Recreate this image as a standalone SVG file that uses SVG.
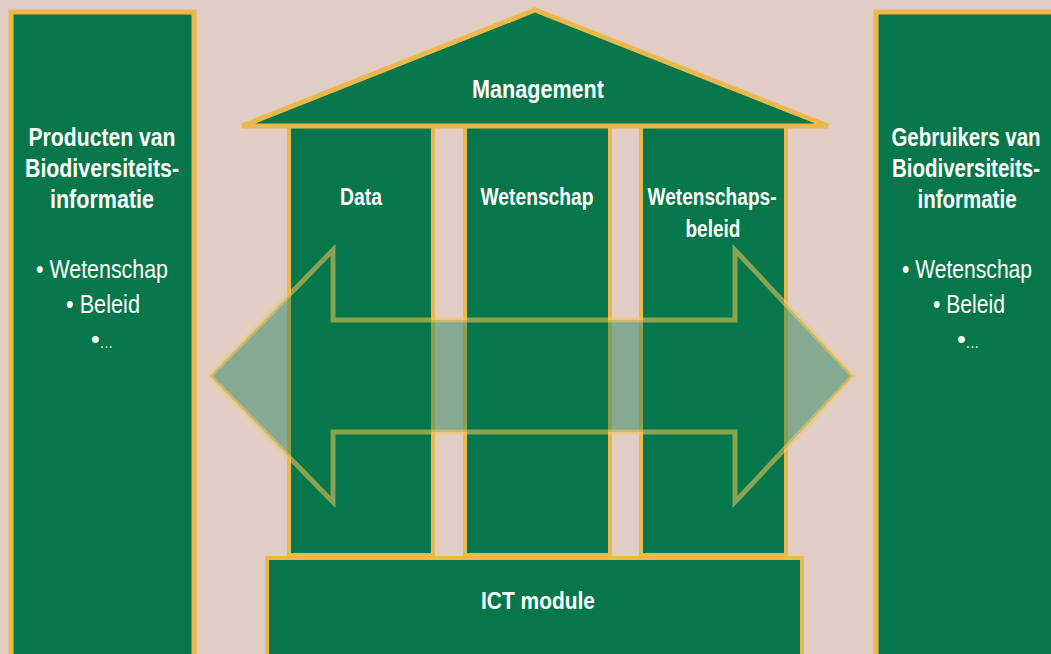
<svg xmlns="http://www.w3.org/2000/svg" width="1051" height="654" viewBox="0 0 1051 654">
<style>
.box{fill:#06774a;stroke:#ecb84c;stroke-width:5}
.pil{fill:#06774a;stroke:#ecb84c;stroke-width:4}
.t{font-family:"Liberation Sans",Arial,sans-serif;fill:#ffffff;text-anchor:middle}
.b{font-weight:bold}
.title{font-size:25px}
.lab{font-size:23.5px}
.li{font-size:25px}
.dots{font-size:16px;fill:#d9e6dc}
</style>
<rect width="1051" height="654" fill="#e2cdc5"/>
<g id="producten">
<rect class="box" x="11" y="12" width="183" height="660"/>
<text class="t b title" x="102" y="146" textLength="147" lengthAdjust="spacingAndGlyphs">Producten van</text>
<text class="t b title" x="102" y="177" textLength="154" lengthAdjust="spacingAndGlyphs">Biodiversiteits-</text>
<text class="t b title" x="102" y="208" textLength="104" lengthAdjust="spacingAndGlyphs">informatie</text>
<text class="t li" x="102" y="278" textLength="132" lengthAdjust="spacingAndGlyphs">• Wetenschap</text>
<text class="t li" x="103" y="313" textLength="74" lengthAdjust="spacingAndGlyphs">• Beleid</text>
<text class="t li" x="102" y="348">•<tspan class="dots">...</tspan></text>
</g>
<g id="gebruikers">
<rect class="box" x="876" y="12" width="200" height="660"/>
<text class="t b title" transform="translate(966,146) scale(0.82,1)" x="0" y="0">Gebruikers van</text>
<text class="t b title" transform="translate(966,177) scale(0.82,1)" x="0" y="0">Biodiversiteits-</text>
<text class="t b title" transform="translate(967,208) scale(0.82,1)" x="0" y="0">informatie</text>
<text class="t li" transform="translate(967,278) scale(0.845,1)" x="0" y="0">• Wetenschap</text>
<text class="t li" transform="translate(969,313) scale(0.845,1)" x="0" y="0">• Beleid</text>
<text class="t li" x="968" y="348">•<tspan class="dots">...</tspan></text>
</g>
<g id="ict">
<rect class="pil" x="267" y="558" width="535" height="120"/>
<text class="t b lab" x="538" y="609" textLength="114" lengthAdjust="spacingAndGlyphs">ICT module</text>
</g>
<g id="data">
<rect class="pil" x="289" y="126" width="144" height="429"/>
<text class="t b lab" x="361" y="205" textLength="42" lengthAdjust="spacingAndGlyphs">Data</text>
</g>
<g id="wetenschap">
<rect class="pil" x="465" y="126" width="145" height="429"/>
<text class="t b lab" x="537" y="205" textLength="113" lengthAdjust="spacingAndGlyphs">Wetenschap</text>
</g>
<g id="beleid">
<rect class="pil" x="641" y="126" width="145" height="429"/>
<text class="t b lab" x="712" y="205" textLength="129" lengthAdjust="spacingAndGlyphs">Wetenschaps-</text>
<text class="t b lab" x="713" y="237" textLength="55" lengthAdjust="spacingAndGlyphs">beleid</text>
</g>
<g id="management">
<polygon class="box" points="242,126 535,10 828,126"/>
<text class="t b" style="font-size:25px" x="538" y="98" textLength="132" lengthAdjust="spacingAndGlyphs">Management</text>
</g>
<g id="connectors">
<polygon points="210,376 333,250 333,320 735,320 735,250 853,376 735,502 735,432 333,432 333,502" fill="#06774a" fill-opacity="0.42" stroke="#f4c85c" stroke-opacity="0.55" stroke-width="5" stroke-linejoin="miter"/>
</g>
</svg>
